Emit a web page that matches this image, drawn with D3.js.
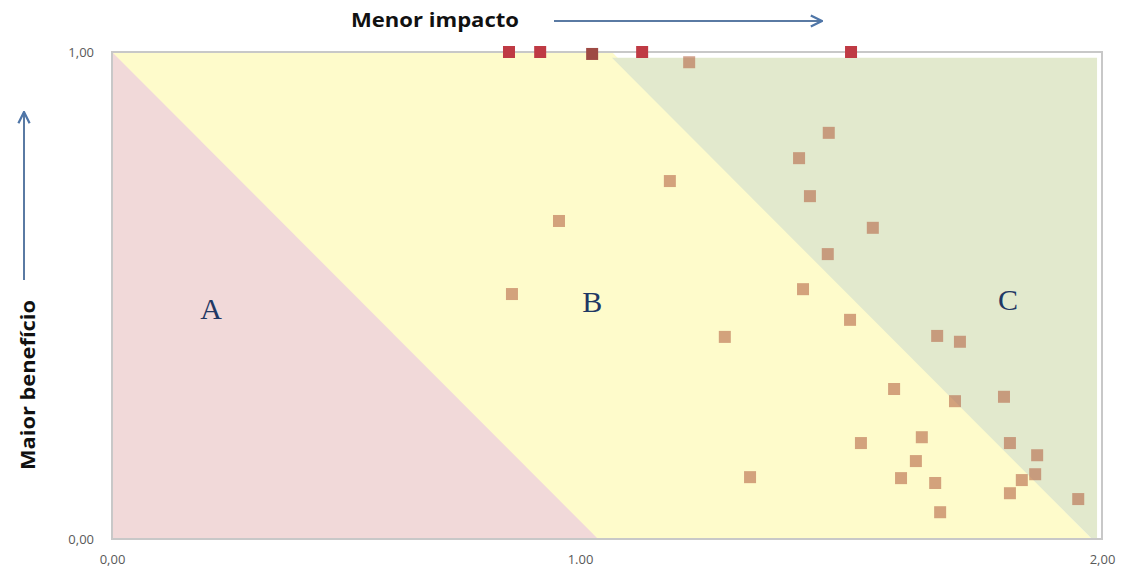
<!DOCTYPE html>
<html>
<head>
<meta charset="utf-8">
<script src="https://cdn.jsdelivr.net/npm/d3@7"></script>
<style>
  html, body { margin: 0; padding: 0; background: #ffffff; }
  svg { display: block; }
</style>
</head>
<body>
<svg id="chart" width="1125" height="576"></svg>
<script>
// ---- data ----
const xTickValues = [0, 1, 2];
const xTickLabels = ["0,00", "1.00", "2,00"];
const yTickValues = [0, 1];
const yTickLabels = ["0,00", "1,00"];

// top-row (red) points
const topX = [0.802, 0.865, 0.970, 1.071, 1.493];
const topY = [1.000, 1.000, 0.996, 1.000, 1.000];

// other points
const ptX = [1.166, 1.448, 1.388, 1.127, 1.410, 0.903, 1.537, 1.446, 0.808, 1.396,
             1.491, 1.238, 1.667, 1.713, 1.580, 1.703, 1.802, 1.513, 1.636, 1.814,
             1.624, 1.869, 1.289, 1.594, 1.663, 1.865, 1.838, 1.814, 1.952, 1.673];
const ptY = [0.979, 0.834, 0.782, 0.735, 0.704, 0.653, 0.639, 0.585, 0.503, 0.513,
             0.450, 0.415, 0.417, 0.405, 0.308, 0.283, 0.292, 0.197, 0.209, 0.197,
             0.160, 0.172, 0.127, 0.125, 0.115, 0.133, 0.121, 0.094, 0.082, 0.055];

// zones (in data coordinates)
const zoneA = [[0, 1], [0.982, 0], [0, 0]];
const zoneB = [[0, 1], [1.01, 1], [1.98, 0], [0.982, 0], [0, 0]];
const zoneC = [[1.01, 0.988], [1.99, 0.988], [1.99, 0], [1.98, 0]];
const zoneLabels = ["A", "B", "C"];
const zoneLabelX = [0.20, 0.97, 1.81];
const zoneLabelY = [0.465, 0.48, 0.485];

const title = "Menor impacto";
const yTitle = "Maior benefício";

// ---- chart ----
const svg = d3.select("#chart");
const mLeft = 112, mRight = 1102, mTop = 52, mBottom = 539;
const x = d3.scaleLinear().domain([0, 2]).range([mLeft, mRight]);
const y = d3.scaleLinear().domain([0, 1]).range([mBottom, mTop]);

const line = d3.line().x(d => x(d[0])).y(d => y(d[1]));

svg.append("path").attr("d", line(zoneB) + "Z").attr("fill", "#fefbcb");
svg.append("path").attr("d", line(zoneA) + "Z").attr("fill", "#f1d9d9");
svg.append("path").attr("d", line(zoneC) + "Z").attr("fill", "#e2e9cd");

// border
svg.append("rect")
  .attr("x", mLeft).attr("y", mTop)
  .attr("width", mRight - mLeft).attr("height", mBottom - mTop)
  .attr("fill", "none").attr("stroke", "#c8c8c8").attr("stroke-width", 2);

// axes
const xAxis = d3.axisBottom(x).tickValues(xTickValues)
  .tickFormat((d, i) => xTickLabels[i]).tickSize(0).tickPadding(16);
const gx = svg.append("g").attr("transform", `translate(0,${mBottom})`).call(xAxis);
gx.select(".domain").remove();
gx.selectAll("text").attr("font-family", "Open Sans, sans-serif").attr("font-size", 13)
  .attr("fill", "#595959")
  .attr("dx", (d, i) => i === 1 ? -27 : 0);

const yAxis = d3.axisLeft(y).tickValues(yTickValues)
  .tickFormat((d, i) => yTickLabels[i]).tickSize(0).tickPadding(18);
const gy = svg.append("g").attr("transform", `translate(${mLeft},0)`).call(yAxis);
gy.select(".domain").remove();
gy.selectAll("text").attr("font-family", "Open Sans, sans-serif").attr("font-size", 13)
  .attr("fill", "#595959");

// zone labels
svg.selectAll("text.zone").data(zoneLabels).enter().append("text")
  .attr("class", "zone")
  .attr("x", (d, i) => x(zoneLabelX[i]))
  .attr("y", (d, i) => y(zoneLabelY[i]))
  .attr("text-anchor", "middle").attr("dominant-baseline", "middle")
  .attr("font-family", "Liberation Serif, serif").attr("font-size", 30)
  .attr("fill", "#1f3864")
  .text(d => d);

// points
const sz = 12;
svg.selectAll("rect.pt").data(ptX.map((v, i) => [v, ptY[i]])).enter().append("rect")
  .attr("class", "pt")
  .attr("x", d => x(d[0]) - sz / 2).attr("y", d => y(d[1]) - sz / 2)
  .attr("width", sz).attr("height", sz)
  .attr("fill", "rgb(182,104,72)").attr("fill-opacity", 0.6);

svg.selectAll("rect.topPt").data(topX.map((v, i) => [v, topY[i]])).enter().append("rect")
  .attr("class", "topPt")
  .attr("x", d => x(d[0]) - sz / 2).attr("y", d => y(d[1]) - sz / 2)
  .attr("width", sz).attr("height", sz)
  .attr("fill", (d, i) => i === 2 ? "#9e4a44" : "#bf3a44");

// titles and arrows
const defs = svg.append("defs");
defs.append("marker").attr("id", "arr").attr("viewBox", "0 0 10 10")
  .attr("refX", 9).attr("refY", 5).attr("markerWidth", 7).attr("markerHeight", 7)
  .attr("orient", "auto-start-reverse")
  .append("path").attr("d", "M1,1 L9,5 L1,9").attr("fill", "none")
  .attr("stroke", "#4f76a8").attr("stroke-width", 1.6);

svg.append("text").attr("x", 435).attr("y", 27).attr("text-anchor", "middle")
  .attr("font-family", "Open Sans, sans-serif").attr("font-weight", "bold")
  .attr("font-size", 19).attr("fill", "#111")
  .attr("textLength", 168).attr("lengthAdjust", "spacingAndGlyphs")
  .text(title);
svg.append("line").attr("x1", 554).attr("y1", 21).attr("x2", 822).attr("y2", 21)
  .attr("stroke", "#5a7aa3").attr("stroke-width", 2).attr("marker-end", "url(#arr)");

svg.append("text").attr("transform", "translate(35,385) rotate(-90)")
  .attr("text-anchor", "middle")
  .attr("font-family", "Open Sans, sans-serif").attr("font-weight", "bold")
  .attr("font-size", 19).attr("fill", "#111")
  .attr("textLength", 170).attr("lengthAdjust", "spacingAndGlyphs")
  .text(yTitle);
svg.append("line").attr("x1", 24).attr("y1", 280).attr("x2", 24).attr("y2", 112)
  .attr("stroke", "#5a7aa3").attr("stroke-width", 2).attr("marker-end", "url(#arr)");
</script>
</body>
</html>
